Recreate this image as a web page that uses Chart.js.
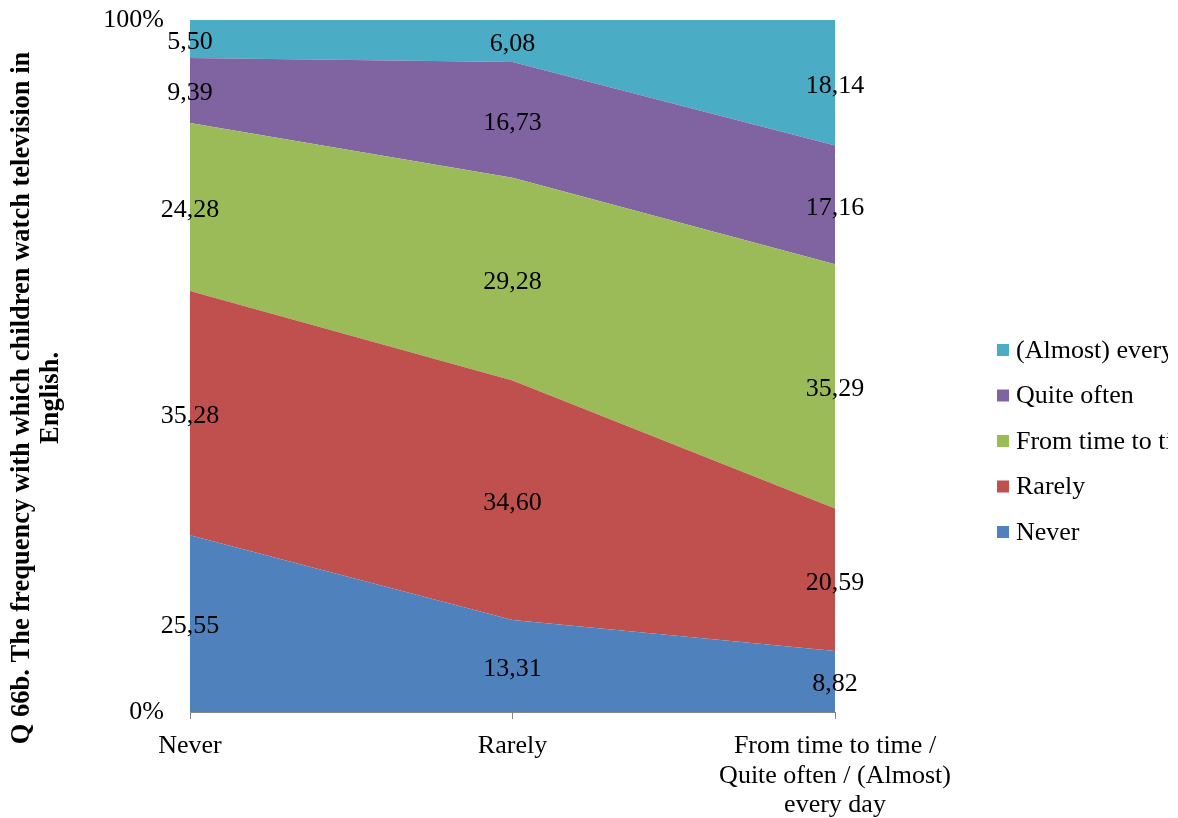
<!DOCTYPE html>
<html>
<head>
<meta charset="utf-8">
<script src="https://cdn.jsdelivr.net/npm/chart.js@4.4.0/dist/chart.umd.min.js"></script>
<style>
  body { margin: 0; background: #fff; }
  canvas { display: block; }
</style>
</head>
<body>
<canvas id="areaChart" width="1178" height="818"></canvas>
<script>
// categories on the x axis
const categories = ["Never", "Rarely", ["From time to time /", "Quite often / (Almost)", "every day"]];

// series, bottom to top
const seriesNames = ["Never", "Rarely", "From time to time", "Quite often", "(Almost) every day"];
const neverValues = [25.55, 13.31, 8.82];
const rarelyValues = [35.28, 34.60, 20.59];
const timeToTimeValues = [24.28, 29.28, 35.29];
const quiteOftenValues = [9.39, 16.73, 17.16];
const everyDayValues = [5.50, 6.08, 18.14];
const seriesColors = ["#4F81BD", "#C0504D", "#9BBB59", "#8064A2", "#4BACC6"];

const yTicks = [0, 100];
const yTitle = ["Q 66b. The frequency with which children watch television in", "English."];

const allValues = [neverValues, rarelyValues, timeToTimeValues, quiteOftenValues, everyDayValues];
const serif = "'Liberation Serif', 'Times New Roman', serif";

const datasets = allValues.map((vals, i) => ({
    label: seriesNames[i],
    data: vals,
    backgroundColor: seriesColors[i],
    borderColor: seriesColors[i],
    borderWidth: 0,
    pointRadius: 0,
    fill: i === 0 ? "origin" : "-1",
    tension: 0
}));

// value labels in the middle of each band
const valueLabels = {
    id: "valueLabels",
    afterDatasetsDraw(chart) {
        const ctx = chart.ctx;
        const y = chart.scales.y;
        ctx.save();
        ctx.font = "26px " + serif;
        ctx.fillStyle = "#000";
        ctx.textAlign = "center";
        ctx.textBaseline = "middle";
        categories.forEach((c, j) => {
            let base = 0;
            allValues.forEach((vals) => {
                const mid = base + vals[j] / 2;
                base += vals[j];
                const px = chart.scales.x.getPixelForValue(j);
                ctx.fillText(vals[j].toFixed(2).replace(".", ","), px, y.getPixelForValue(mid) + 3);
            });
        });
        ctx.restore();
    }
};

// legend on the right, cut off by the picture edge
const sideLegend = {
    id: "sideLegend",
    afterDraw(chart) {
        const ctx = chart.ctx;
        ctx.save();
        ctx.beginPath();
        ctx.rect(0, 0, 1168, chart.height);
        ctx.clip();
        ctx.font = "26px " + serif;
        ctx.textBaseline = "middle";
        ctx.textAlign = "left";
        for (let k = 0; k < seriesNames.length; k++) {
            const i = seriesNames.length - 1 - k;
            const yy = 350 + k * 45.5;
            ctx.fillStyle = seriesColors[i];
            ctx.fillRect(997, yy - 6, 12, 12);
            ctx.fillStyle = "#000";
            ctx.fillText(seriesNames[i], 1016, yy + 1);
        }
        ctx.restore();
    }
};

// rotated axis title
const axisTitle = {
    id: "axisTitle",
    afterDraw(chart) {
        const ctx = chart.ctx;
        ctx.save();
        ctx.font = "bold 26.5px " + serif;
        ctx.fillStyle = "#000";
        ctx.textAlign = "center";
        ctx.textBaseline = "middle";
        ctx.translate(22, 398);
        ctx.rotate(-Math.PI / 2);
        ctx.fillText(yTitle[0], 0, 0);
        ctx.fillText(yTitle[1], 0, 29);
        ctx.restore();
    }
};

new Chart(document.getElementById("areaChart"), {
    type: "line",
    data: { labels: categories, datasets },
    options: {
        responsive: false,
        animation: false,
        layout: { padding: { top: 20, right: 343, left: 0, bottom: 0 } },
        plugins: {
            legend: { display: false },
            tooltip: { enabled: false }
        },
        scales: {
            x: {
                offset: false,
                grid: {
                    drawOnChartArea: false,
                    drawTicks: true,
                    tickLength: 7,
                    color: "#868686"
                },
                border: { color: "#868686", width: 1 },
                ticks: {
                    color: "#000",
                    font: { family: serif, size: 26, lineHeight: 1.12 },
                    padding: 13,
                    maxRotation: 0,
                    autoSkip: false
                },
                afterFit(scale) { scale.height = 106; }
            },
            y: {
                stacked: true,
                min: 0,
                max: 100,
                afterBuildTicks(scale) { scale.ticks = yTicks.map(v => ({ value: v })); },
                grid: { display: false, drawTicks: false },
                border: { color: "#868686", width: 1 },
                ticks: {
                    color: "#000",
                    font: { family: serif, size: 26 },
                    padding: 26,
                    callback: v => v + "%"
                },
                afterFit(scale) {
                    scale.width = 190;
                    scale.paddingTop = 0;
                    scale.paddingBottom = 0;
                }
            }
        }
    },
    plugins: [valueLabels, sideLegend, axisTitle]
});
</script>
</body>
</html>
